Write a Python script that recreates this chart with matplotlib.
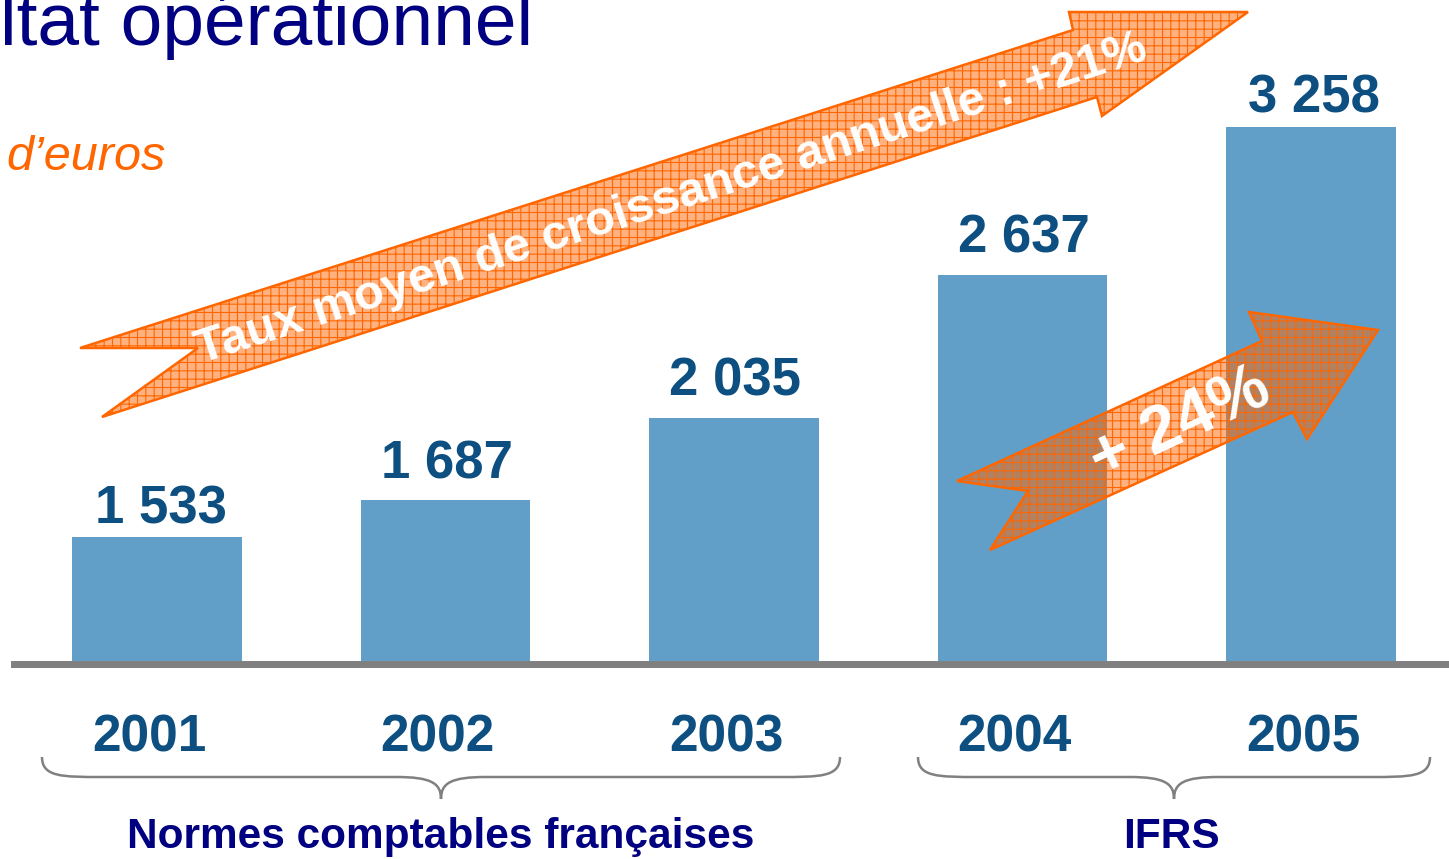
import matplotlib
matplotlib.use('Agg')
import matplotlib.pyplot as plt
from matplotlib.patches import Polygon, PathPatch
from matplotlib.path import Path
import matplotlib.transforms as mtransforms

# ---------------- data ----------------
years = ['2001', '2002', '2003', '2004', '2005']
values = [1533, 1687, 2035, 2637, 3258]
value_labels = ['1 533', '1 687', '2 035', '2 637', '3 258']
groups = ['Normes comptables françaises', 'IFRS']
title = 'Résultat opérationnel'
unit = 'd’euros'
cagr_text = 'Taux moyen de croissance annuelle : +21%'
yoy_text = '+ 24%'

# ---------------- style ----------------
plt.rcParams['font.family'] = ['Liberation Sans', 'DejaVu Sans']
plt.rcParams['hatch.linewidth'] = 0.8
BAR = '#629FC8'
NUM = '#0C4F80'
NAVY = '#000080'
ORANGE = '#FF6600'
GREY = '#808080'

W, H = 1449, 859
fig = plt.figure(figsize=(W / 100, H / 100), dpi=100)
fig.patch.set_facecolor('white')

# data axes (full figure)
ax = fig.add_axes([0, 0, 1, 1])
ax.set_xlim(-0.5442, 4.4783)
ax.set_ylim(178.4, 3792.2)
ax.axis('off')
base = 1000
x = list(range(len(years)))
ax.bar(x, [v - base for v in values], bottom=base, width=0.589, color=BAR, zorder=2)
ax.axhline(base, xmin=14 / W, xmax=1, color=GREY, lw=5.0, zorder=3)

label_gap_px = [14, 22, 22, 22, 14]
label_dx_px = [4, 1, 1, 1, 3]
for i, (v, lab) in enumerate(zip(values, value_labels)):
    tr = mtransforms.offset_copy(ax.transData, fig=fig, x=label_dx_px[i],
                                 y=label_gap_px[i], units='dots')
    ax.text(i, v, lab, transform=tr, ha='center', va='baseline',
            fontsize=38, fontweight='bold', color=NUM, zorder=4)

# overlay axes in pixel coordinates for decorations
ov = fig.add_axes([0, 0, 1, 1], zorder=5)
ov.set_xlim(0, W)
ov.set_ylim(H, 0)
ov.axis('off')
ov.patch.set_visible(False)

blend = mtransforms.blended_transform_factory(ax.transData, ov.transData)
blend_shift = mtransforms.offset_copy(blend, fig=fig, x=-8, y=0, units='dots')
for i, yr in enumerate(years):
    ov.text(i, 751, yr, transform=blend_shift, ha='center', va='baseline',
            fontsize=37, fontweight='bold', color=NUM)

# title (clipped at the top/left edge as in the reference) & unit
ov.text(533, 45, title, ha='right', va='baseline', fontsize=54, color=NAVY)
ov.text(6, 170, unit, ha='left', va='baseline', fontsize=35,
        style='italic', color=ORANGE)

# arrows
face = (1.0, 0.4, 0.0, 0.5)
big = [(80, 348), (1073, 30), (1069, 12), (1248, 12), (1102, 116),
       (1097, 97), (102, 417), (198, 348)]
small = [(957, 481), (1262, 341), (1249, 312), (1378, 330), (1307, 439),
         (1293, 412), (990, 550), (1028, 491)]
for pts in (big, small):
    ov.add_patch(Polygon(pts, closed=True, facecolor=face, edgecolor=ORANGE,
                         hatch='++', lw=1.8, joinstyle='miter'))

ov.text(671, 199, cagr_text, rotation=17.8, rotation_mode='anchor',
        ha='center', va='center', fontsize=35, fontweight='bold', color='white')
ov.text(1180, 425, yoy_text, rotation=24.6, rotation_mode='anchor',
        ha='center', va='center', fontsize=48, fontweight='bold', color='white')

# braces
def brace(x0, x1, xm, ytop=757, yflat=777, ytip=799):
    verts = [(x0, ytop), (x0, yflat), (x0 + 20, yflat), (x0 + 60, yflat),
             (xm - 45, yflat),
             (xm - 10, yflat), (xm, yflat + 6), (xm, ytip),
             (xm, yflat + 6), (xm + 10, yflat), (xm + 45, yflat),
             (x1 - 60, yflat),
             (x1 - 20, yflat), (x1, yflat), (x1, ytop)]
    codes = [Path.MOVETO, Path.CURVE4, Path.CURVE4, Path.CURVE4,
             Path.LINETO,
             Path.CURVE4, Path.CURVE4, Path.CURVE4,
             Path.CURVE4, Path.CURVE4, Path.CURVE4,
             Path.LINETO,
             Path.CURVE4, Path.CURVE4, Path.CURVE4]
    ov.add_patch(PathPatch(Path(verts, codes), facecolor='none',
                           edgecolor=GREY, lw=1.8))

brace(42, 840, 441)
brace(918, 1430, 1174)

ov.text(441, 848, groups[0], ha='center', va='baseline', fontsize=30.5,
        fontweight='bold', color=NAVY)
ov.text(1171, 848, groups[1], ha='center', va='baseline', fontsize=30.5,
        fontweight='bold', color=NAVY)

fig.savefig('out.png', dpi=100, facecolor='white')
